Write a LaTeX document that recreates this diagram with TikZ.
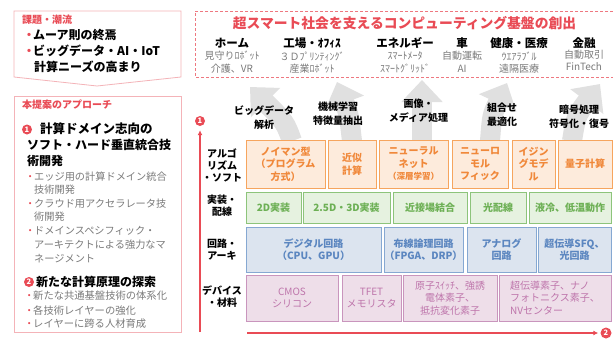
\documentclass[tikz,border=0pt]{standalone}
\usepackage{fontspec}
\setmainfont{Noto Sans CJK JP}
\usetikzlibrary{arrows.meta}
\definecolor{redt}{HTML}{E94B55}
\definecolor{pinkline}{HTML}{F4B3B8}
\definecolor{grayt}{HTML}{7A7A7A}
\definecolor{arrgray}{HTML}{E0E0E0}
\definecolor{ofill}{HTML}{FDEBDC}
\definecolor{oline}{HTML}{F6A55E}
\definecolor{otext}{HTML}{F0883A}
\definecolor{gfill}{HTML}{E6F2E0}
\definecolor{gline}{HTML}{8DC47B}
\definecolor{gtext}{HTML}{6DB055}
\definecolor{bfill}{HTML}{DCE4EF}
\definecolor{bline}{HTML}{86A8D2}
\definecolor{btext}{HTML}{5B86C0}
\definecolor{pfill}{HTML}{EEDEE9}
\definecolor{pline}{HTML}{C995BD}
\definecolor{ptext}{HTML}{BE75AB}
\newcommand{\fsz}[2]{\fontsize{#1}{#2}\selectfont}
\newcommand{\pbul}{\makebox[8pt][c]{\textcolor{redt}{・}}}
\tikzset{
  lt/.style={anchor=west, inner sep=0pt},
  ct/.style={inner sep=0pt, align=center},
  numc/.style={circle, fill=redt, text=white, inner sep=0pt, minimum size=#1, font=\fsz{7.5}{7.5}\bfseries},
  garrow/.style={draw=arrgray, line width=20pt, -{Triangle[width=40pt,length=22pt]}},
  redax/.style={draw=redt, line width=1.4pt, -{Latex[length=5pt,width=5pt]}},
  cell/.style={rectangle, inner sep=0pt, line width=0.9pt, align=center, font=\fsz{10}{12.5}\bfseries},
  ocell/.style={cell, draw=oline, fill=ofill, text=otext},
  gcell/.style={cell, draw=gline, fill=gfill, text=gtext},
  bcell/.style={cell, draw=bline, fill=bfill, text=btext, font=\fsz{10}{12}\bfseries},
  pcell/.style={cell, draw=pline, fill=pfill, text=ptext, font=\fsz{10}{12.5}},
  rowlab/.style={ct, font=\fsz{10}{12}\bfseries},
  arrlab/.style={ct, font=\fsz{10}{13.5}\bfseries},
  cat/.style={ct, font=\fsz{11.5}{12}\bfseries},
  sub/.style={ct, font=\fsz{10}{12}, text=grayt},
}
\begin{document}
\begin{tikzpicture}[x=1pt,y=-1pt]
\useasboundingbox (0,0) rectangle (613,338);
\fill[white] (0,0) rectangle (613,338);

% ---------- left box 1 ----------
\draw[pinkline, line width=0.8pt] (14,11) -- (181,11) -- (181,77) -- (97,86) -- (14,77) -- cycle;
\node[lt, font=\fsz{10}{12}\bfseries, text=redt] (k0) at (22,20) {課題・潮流};
\node[lt, font=\fsz{12}{14}\bfseries] (k1) at (25,35) {\pbul ムーア則の終焉};
\node[lt, font=\fsz{12}{14}\bfseries] (k2) at (25,51) {\pbul ビッグデータ・AI・IoT};
\node[lt, font=\fsz{12}{14}\bfseries] (k3) at (34,67) {計算ニーズの高まり};

% ---------- left box 2 ----------
\draw[pinkline, line width=0.8pt] (14,96) rectangle (181,332);
\node[lt, font=\fsz{10}{12}\bfseries, text=redt] (p0) at (22,105) {本提案のアプローチ};
\node[numc=10pt] (n1) at (27,129.5) {1};
\node[lt, font=\fsz{12.5}{14}\bfseries] (p1) at (40,129) {計算ドメイン志向の};
\node[lt, font=\fsz{12}{14}\bfseries] (p2) at (27,145) {ソフト・ハード垂直統合技};
\node[lt, font=\fsz{12}{14}\bfseries] (p3) at (27,161) {術開発};
\node[lt, font=\fsz{10.2}{12}, text=grayt] (p4) at (26,177) {\pbul エッジ用の計算ドメイン統合};
\node[lt, font=\fsz{10.2}{12}, text=grayt] (p5) at (34,190) {技術開発};
\node[lt, font=\fsz{10.2}{12}, text=grayt] (p6) at (26,204) {\pbul クラウド用アクセラレータ技};
\node[lt, font=\fsz{10.2}{12}, text=grayt] (p7) at (34,217) {術開発};
\node[lt, font=\fsz{10.2}{12}, text=grayt] (p8) at (26,231) {\pbul ドメインスペシフィック・};
\node[lt, font=\fsz{10.2}{12}, text=grayt] (p9) at (34,245) {アーキテクトによる強力なマ};
\node[lt, font=\fsz{10.2}{12}, text=grayt] (p10) at (34,259) {ネージメント};
\node[numc=10pt] (n2) at (29,282) {2};
\node[lt, font=\fsz{12}{14}\bfseries] (p11) at (36,282) {新たな計算原理の探索};
\node[lt, font=\fsz{10.3}{12}, text=grayt] (p12) at (25,296) {\pbul 新たな共通基盤技術の体系化};
\node[lt, font=\fsz{10.3}{12}, text=grayt] (p13) at (25,311) {\pbul 各技術レイヤーの強化};
\node[lt, font=\fsz{10.3}{12}, text=grayt] (p14) at (25,324) {\pbul レイヤーに跨る人材育成};

% ---------- top dashed box ----------
\draw[redt!75, line width=0.9pt, dash pattern=on 3pt off 2pt] (613,11) -- (195,11) -- (195,77) -- (613,77);
\node[ct, font=\fsz{13.8}{15}\bfseries, text=redt] (title) at (404.5,23) {超スマート社会を支えるコンピューティング基盤の創出};
\node[cat] (c1) at (232,43) {ホーム};
\node[sub] (c1a) at (232,56) {見守りﾛﾎﾞｯﾄ};
\node[sub] (c1b) at (232,69) {介護、VR};
\node[cat] (c2) at (312,43) {工場・ｵﾌｨｽ};
\node[sub] (c2a) at (312,56) {３Ｄﾌﾟﾘﾝﾃｨﾝｸﾞ};
\node[sub] (c2b) at (312,69) {産業ﾛﾎﾞｯﾄ};
\node[cat] (c3) at (405,43) {エネルギー};
\node[sub] (c3a) at (405,56) {ｽﾏｰﾄﾒｰﾀ};
\node[sub] (c3b) at (405,69) {ｽﾏｰﾄｸﾞﾘｯﾄﾞ};
\node[cat] (c4) at (462,43) {車};
\node[sub] (c4a) at (462,56) {自動運転};
\node[sub] (c4b) at (462,69) {AI};
\node[cat] (c5) at (519,43) {健康・医療};
\node[sub] (c5a) at (519,56) {ｳｴｱﾗﾌﾞﾙ};
\node[sub] (c5b) at (519,69) {遠隔医療};
\node[cat] (c6) at (584,43) {金融};
\node[sub] (c6a) at (584,55) {自動取引};
\node[sub] (c6b) at (584,67) {FinTech};

% ---------- gray arrows ----------
\coordinate (a1s) at (292,141); \coordinate (a1e) at (250,87);
\coordinate (a2s) at (352,141); \coordinate (a2e) at (337,82);
\coordinate (a3s) at (422,141); \coordinate (a3e) at (422,80);
\coordinate (a4s) at (490,141); \coordinate (a4e) at (507,83);
\coordinate (a5s) at (572,141); \coordinate (a5e) at (600,84);
\draw[garrow] (a1s) .. controls (285,122) .. (a1e);
\draw[garrow] (a2s) .. controls (349,115) .. (a2e);
\draw[garrow] (a3s) -- (a3e);
\draw[garrow] (a4s) .. controls (492,115) .. (a4e);
\draw[garrow] (a5s) .. controls (576,116) .. (a5e);

\node[arrlab] (l1) at (264,117.5) {ビッグデータ\\解析};
\node[arrlab] (l2) at (338,113.5) {機械学習\\特徴量抽出};
\node[arrlab] (l3) at (418.5,110.5) {画像・\\メディア処理};
\node[arrlab] (l4) at (502,114.5) {組合せ\\最適化};
\node[arrlab] (l5) at (579,116.5) {暗号処理\\符号化・復号};

% ---------- axes ----------
\node[numc=10pt] (ax1) at (200,121) {1};
\node[numc=11pt] (ax2) at (606,333) {2};
\coordinate (vax0) at (200,332);
\coordinate (hax0) at (247,333);
\draw[redax, shorten >=4pt] (vax0) -- (ax1);
\draw[redax, shorten >=2pt] (hax0) -- (ax2);

% ---------- row labels ----------
\node[rowlab] (r1) at (222,165) {アルゴ\\リズム\\・ソフト};
\node[rowlab] (r2) at (222,206) {実装・\\配線};
\node[rowlab] (r3) at (222,250) {回路・\\アーキ};
\node[rowlab] (r4) at (222,297) {デバイス\\・材料};

% ---------- orange row ----------
\node[ocell, minimum width=79pt, minimum height=48pt] (o1) at (285.5,164) {ノイマン型\\（プログラム\\方式）};
\node[ocell, minimum width=48pt, minimum height=48pt] (o2) at (352,164) {近似\\計算};
\node[ocell, minimum width=69pt, minimum height=48pt] (o3) at (413.5,164) {ニューラル\\ネット\\{\fsz{8.5}{12}（深層学習）}};
\node[ocell, minimum width=56pt, minimum height=48pt] (o4) at (480,164) {ニューロ\\モル\\フィック};
\node[ocell, minimum width=43pt, minimum height=48pt] (o5) at (533.5,164) {イジン\\グモデ\\ル};
\node[ocell, minimum width=54pt, minimum height=48pt] (o6) at (585,164) {量子計算};

% ---------- green row ----------
\node[gcell, minimum width=55pt, minimum height=31pt] (g1) at (273.5,207.5) {2D実装};
\node[gcell, minimum width=87pt, minimum height=31pt] (g2) at (346.5,207.5) {2.5D・3D実装};
\node[gcell, minimum width=74pt, minimum height=31pt] (g3) at (430,207.5) {近接場結合};
\node[gcell, minimum width=56pt, minimum height=31pt] (g4) at (498,207.5) {光配線};
\node[gcell, minimum width=82pt, minimum height=31pt] (g5) at (570,207.5) {液冷、低温動作};

% ---------- blue row ----------
\node[bcell, minimum width=135pt, minimum height=45pt] (b1) at (313.5,249.5) {デジタル回路\\（CPU、GPU）};
\node[bcell, minimum width=79pt, minimum height=45pt] (b2) at (423.5,249.5) {布線論理回路\\（FPGA、DRP）};
\node[bcell, minimum width=69pt, minimum height=45pt] (b3) at (501.5,249.5) {アナログ\\回路};
\node[bcell, minimum width=73pt, minimum height=45pt] (b4) at (574.5,249.5) {超伝導SFQ、\\光回路};

% ---------- purple row ----------
\node[pcell, minimum width=92pt, minimum height=46pt] (d1) at (292,298) {CMOS\\シリコン};
\node[pcell, minimum width=59pt, minimum height=46pt] (d2) at (371.5,298) {TFET\\メモリスタ};
\node[pcell, minimum width=94pt, minimum height=46pt] (d3) at (450,298) {原子ｽｲｯﾁ、強誘\\電体素子、\\抵抗変化素子};
\node[pcell, align=left, minimum width=112pt, minimum height=46pt] (d4) at (555,298) {超伝導素子、ナノ\\フォトニクス素子、\\NVセンター};
\end{tikzpicture}
\end{document}
